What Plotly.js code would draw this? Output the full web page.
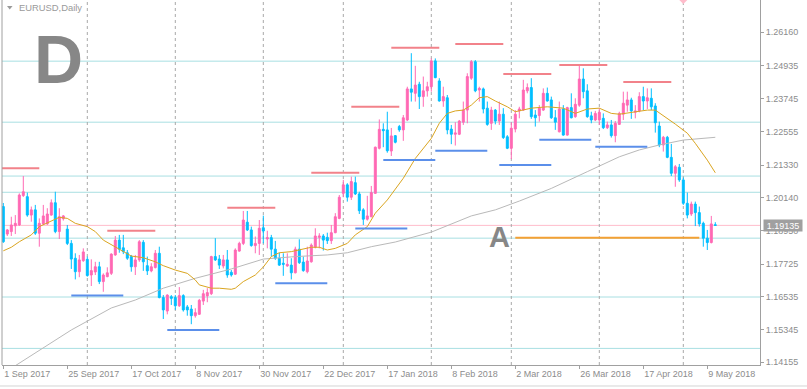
<!DOCTYPE html>
<html><head><meta charset="utf-8">
<script src="https://cdn.plot.ly/plotly-3.0.1.min.js"></script>
<style>html,body{margin:0;padding:0;background:#fff;overflow:hidden}#chart{width:807px;height:389px}</style>
</head><body><div id="chart"></div>
<script>
// ---- candle data (EURUSD daily, bar index 0 = 1 Sep 2017) ----
const open = [1.1982,1.1882,1.1891,1.1912,1.1915,1.2022,1.2018,1.1951,1.1970,1.1885,1.1919,1.1919,1.1951,1.1996,1.1891,1.1938,1.1900,1.1848,1.1794,1.1745,1.1785,1.1790,1.1733,1.1744,1.1763,1.1709,1.1727,1.1739,1.1806,1.1860,1.1832,1.1814,1.1800,1.1763,1.1788,1.1852,1.1767,1.1748,1.1760,1.1812,1.1651,1.1602,1.1654,1.1651,1.1621,1.1658,1.1617,1.1609,1.1585,1.1590,1.1638,1.1657,1.1665,1.1800,1.1791,1.1766,1.1788,1.1743,1.1736,1.1820,1.1848,1.1925,1.1897,1.1840,1.1848,1.1905,1.1864,1.1869,1.1827,1.1794,1.1776,1.1766,1.1769,1.1741,1.1827,1.1780,1.1745,1.1781,1.1834,1.1870,1.1875,1.1870,1.1858,1.1887,1.1939,1.2030,1.2061,1.2016,1.2069,1.2028,1.1970,1.1936,1.1945,1.2030,1.2194,1.2263,1.2261,1.2184,1.2240,1.2273,1.2261,1.2297,1.2410,1.2394,1.2427,1.2382,1.2403,1.2418,1.2512,1.2439,1.2366,1.2378,1.2264,1.2245,1.2245,1.2289,1.2333,1.2449,1.2509,1.2406,1.2410,1.2340,1.2285,1.2333,1.2293,1.2318,1.2236,1.2194,1.2264,1.2330,1.2333,1.2403,1.2415,1.2315,1.2313,1.2333,1.2394,1.2370,1.2305,1.2254,1.2337,1.2242,1.2342,1.2309,1.2351,1.2446,1.2403,1.2312,1.2297,1.2297,1.2303,1.2269,1.2279,1.2240,1.2281,1.2318,1.2351,1.2370,1.2325,1.2330,1.2382,1.2366,1.2376,1.2348,1.2275,1.2206,1.2234,1.2161,1.2103,1.2125,1.2079,1.1994,1.1955,1.1991,1.1960,1.1921,1.1867,1.1851,1.1916];
const high = [1.1995,1.1900,1.1945,1.1951,1.2030,1.2093,1.2033,1.1982,1.1988,1.1939,1.1988,1.1976,1.2008,1.2036,1.1976,1.1951,1.1915,1.1860,1.1812,1.1806,1.1830,1.1800,1.1790,1.1781,1.1781,1.1739,1.1761,1.1812,1.1875,1.1879,1.1879,1.1824,1.1806,1.1806,1.1860,1.1860,1.1800,1.1776,1.1824,1.1836,1.1660,1.1663,1.1660,1.1660,1.1689,1.1663,1.1624,1.1624,1.1612,1.1646,1.1679,1.1685,1.1803,1.1867,1.1806,1.1806,1.1824,1.1751,1.1830,1.1854,1.1966,1.1966,1.1909,1.1873,1.1933,1.1949,1.1894,1.1879,1.1857,1.1814,1.1812,1.1812,1.1794,1.1836,1.1863,1.1800,1.1836,1.1848,1.1903,1.1885,1.1882,1.1887,1.1915,1.1958,1.2024,1.2079,1.2067,1.2091,1.2091,1.2036,1.1976,1.2021,1.2057,1.2200,1.2299,1.2285,1.2327,1.2268,1.2242,1.2279,1.2315,1.2418,1.2540,1.2494,1.2436,1.2455,1.2436,1.2521,1.2521,1.2449,1.2418,1.2388,1.2279,1.2289,1.2297,1.2364,1.2467,1.2515,1.2515,1.2418,1.2415,1.2364,1.2345,1.2337,1.2364,1.2340,1.2242,1.2289,1.2333,1.2345,1.2443,1.2430,1.2449,1.2333,1.2351,1.2412,1.2415,1.2382,1.2333,1.2364,1.2351,1.2345,1.2394,1.2376,1.2497,1.2485,1.2427,1.2327,1.2330,1.2340,1.2321,1.2291,1.2297,1.2293,1.2327,1.2400,1.2400,1.2378,1.2351,1.2398,1.2418,1.2412,1.2412,1.2358,1.2291,1.2239,1.2239,1.2210,1.2133,1.2137,1.2088,1.2033,1.2000,1.2000,1.1982,1.1927,1.1897,1.1948,1.1925];
const low = [1.1850,1.1875,1.1875,1.1882,1.1912,1.2017,1.1945,1.1927,1.1879,1.1836,1.1915,1.1915,1.1949,1.1885,1.1864,1.1931,1.1842,1.1755,1.1717,1.1725,1.1781,1.1727,1.1693,1.1733,1.1700,1.1672,1.1725,1.1733,1.1803,1.1814,1.1809,1.1788,1.1745,1.1733,1.1781,1.1748,1.1733,1.1743,1.1757,1.1648,1.1573,1.1590,1.1624,1.1606,1.1617,1.1600,1.1585,1.1554,1.1578,1.1588,1.1624,1.1634,1.1660,1.1784,1.1755,1.1757,1.1723,1.1727,1.1733,1.1818,1.1842,1.1893,1.1836,1.1812,1.1806,1.1848,1.1830,1.1800,1.1788,1.1766,1.1730,1.1763,1.1717,1.1739,1.1773,1.1745,1.1739,1.1778,1.1830,1.1830,1.1822,1.1846,1.1846,1.1885,1.1936,1.2016,1.2000,1.2006,1.2024,1.1955,1.1915,1.1931,1.1943,1.2028,1.2190,1.2198,1.2178,1.2166,1.2212,1.2254,1.2221,1.2293,1.2364,1.2364,1.2337,1.2345,1.2382,1.2400,1.2449,1.2364,1.2345,1.2245,1.2209,1.2204,1.2242,1.2279,1.2285,1.2443,1.2398,1.2364,1.2321,1.2276,1.2261,1.2281,1.2279,1.2228,1.2191,1.2155,1.2252,1.2303,1.2330,1.2394,1.2301,1.2273,1.2291,1.2330,1.2364,1.2301,1.2261,1.2252,1.2240,1.2240,1.2303,1.2305,1.2345,1.2376,1.2305,1.2285,1.2293,1.2279,1.2264,1.2264,1.2233,1.2216,1.2279,1.2297,1.2327,1.2301,1.2303,1.2325,1.2333,1.2337,1.2333,1.2251,1.2198,1.2182,1.2158,1.2093,1.2054,1.2072,1.1988,1.1939,1.1948,1.1911,1.1909,1.1836,1.1824,1.1848,1.1912];
const close = [1.1854,1.1897,1.1915,1.1921,1.2024,1.2036,1.1951,1.1970,1.1885,1.1921,1.1948,1.1955,1.1996,1.1891,1.1945,1.1948,1.1848,1.1791,1.1745,1.1788,1.1817,1.1731,1.1749,1.1763,1.1709,1.1733,1.1741,1.1809,1.1860,1.1827,1.1818,1.1794,1.1763,1.1788,1.1854,1.1781,1.1748,1.1763,1.1812,1.1651,1.1606,1.1660,1.1648,1.1621,1.1658,1.1606,1.1606,1.1585,1.1596,1.1641,1.1665,1.1669,1.1800,1.1788,1.1769,1.1788,1.1733,1.1733,1.1824,1.1848,1.1933,1.1897,1.1840,1.1848,1.1903,1.1893,1.1869,1.1827,1.1794,1.1769,1.1772,1.1772,1.1741,1.1827,1.1778,1.1749,1.1784,1.1842,1.1875,1.1875,1.1860,1.1858,1.1887,1.1945,1.2016,1.2061,1.2016,1.2073,1.2028,1.1967,1.1936,1.1948,1.2033,1.2198,1.2263,1.2258,1.2185,1.2239,1.2216,1.2261,1.2305,1.2410,1.2398,1.2424,1.2382,1.2403,1.2418,1.2512,1.2451,1.2366,1.2382,1.2261,1.2245,1.2250,1.2293,1.2333,1.2455,1.2509,1.2403,1.2412,1.2337,1.2281,1.2333,1.2293,1.2318,1.2233,1.2194,1.2267,1.2318,1.2337,1.2406,1.2415,1.2309,1.2305,1.2340,1.2394,1.2366,1.2305,1.2289,1.2337,1.2242,1.2342,1.2305,1.2354,1.2446,1.2400,1.2309,1.2297,1.2321,1.2325,1.2269,1.2279,1.2240,1.2285,1.2321,1.2358,1.2370,1.2330,1.2330,1.2382,1.2366,1.2378,1.2345,1.2287,1.2206,1.2234,1.2161,1.2103,1.2127,1.2079,1.1994,1.1951,1.1991,1.1960,1.1919,1.1867,1.1851,1.1919,1.19135];

// ---- moving averages (bar index, price) ----
const maFastBar = [0,2,4,7,9,12,14,16,18,21,23,25,28,30,32,35,38,40,43,46,48,49,52,54,57,58,60,63,65,67,69,72,74,77,79,81,83,86,88,91,93,96,100,103,107,109,111,113,115,117,119,121,123,126,128,132,136,140,143,146,149,152,154,157,161,163,166,168,171,173,176,178];
const maFastVal = [1.1821,1.1834,1.1854,1.1879,1.1909,1.1929,1.1943,1.1939,1.1921,1.1909,1.1891,1.1860,1.1834,1.1818,1.1802,1.1796,1.1781,1.1767,1.1751,1.1739,1.1715,1.1697,1.1685,1.1685,1.1681,1.1685,1.1709,1.1733,1.1762,1.1800,1.1814,1.1818,1.1824,1.1834,1.1834,1.1824,1.1830,1.1848,1.1879,1.1909,1.1958,1.2006,1.2085,1.2157,1.2230,1.2285,1.2321,1.2330,1.2333,1.2351,1.2378,1.2382,1.2366,1.2345,1.2327,1.2340,1.2345,1.2340,1.2321,1.2337,1.2340,1.2321,1.2318,1.2325,1.2333,1.2333,1.2303,1.2282,1.2249,1.2212,1.2151,1.2105];
const maSlowBar = [3,17,27,33,40,48,57,65,73,81,86,92,98,107,117,123,129,137,146,154,159,164,170,174,178];
const maSlowVal = [1.1403,1.1533,1.1613,1.1642,1.1685,1.1721,1.1755,1.1791,1.1800,1.1806,1.1814,1.1836,1.1853,1.1889,1.1948,1.1970,1.2002,1.2048,1.2109,1.2163,1.2188,1.2206,1.2224,1.2230,1.2234];

// ---- drawn levels ----
const levelPrices = [1.2511,1.2289,1.2093,1.2034,1.1867,1.1653,1.1466];
const bidPrice = 1.19135;
const resFrom  = [-3,26,56,77,87,97,113,125,139,155];
const resTo    = [9,38,68,89,99,109,125,137,151,167];
const resPrice = [1.2121,1.1894,1.1978,1.2105,1.2345,1.2560,1.2573,1.2464,1.2497,1.2435];
const supFrom  = [17,41,68,88,95,108,124,134,148];
const supTo    = [30,54,81,101,108,121,137,147,161];
const supPrice = [1.1658,1.1533,1.1703,1.1902,1.2151,1.2185,1.2133,1.2225,1.2200];
const aLineFrom = 128, aLineTo = 174, aLinePrice = 1.1869;
const aLabelBar = 124, aLabelPrice = 1.1873;
const shiftMarkBar = 170;

// ---- axes ----
const gridBars = [21,43,65,85,107,127,149,170];
const xTickBars = [0,16,32,48,64,80,96,112,128,144,160,176];
const xTickLabels = ['1 Sep 2017','25 Sep 2017','17 Oct 2017','8 Nov 2017','30 Nov 2017','22 Dec 2017','17 Jan 2018','8 Feb 2018','2 Mar 2018','26 Mar 2018','17 Apr 2018','9 May 2018'];
const yTickVals = [1.14155,1.15345,1.16535,1.17725,1.18950,1.20140,1.21330,1.22555,1.23745,1.24935,1.26160];

const FONT = 'Liberation Sans, Arial, sans-serif';
const idx = open.map((_, i) => i);

function segs(from, to, price) {
  const x = [], y = [];
  for (let i = 0; i < from.length; i++) { x.push(from[i], to[i], null); y.push(price[i], price[i], null); }
  return {x, y};
}

const traces = [];
traces.push({
  type: 'candlestick', x: idx, open, high, low, close,
  increasing: {line: {color: '#ff69b4', width: 1}, fillcolor: '#ff69b4'},
  decreasing: {line: {color: '#00bfff', width: 1}, fillcolor: '#00bfff'},
  whiskerwidth: 0, hoverinfo: 'skip', showlegend: false
});
traces.push({type: 'scatter', mode: 'lines', x: maSlowBar, y: maSlowVal, line: {color: '#b9b9b9', width: 1}, hoverinfo: 'skip'});
traces.push({type: 'scatter', mode: 'lines', x: maFastBar, y: maFastVal, line: {color: '#daa520', width: 1}, hoverinfo: 'skip'});
const r = segs(resFrom, resTo, resPrice);
traces.push({type: 'scatter', mode: 'lines', x: r.x, y: r.y, line: {color: '#f2828a', width: 2}, hoverinfo: 'skip'});
const s = segs(supFrom, supTo, supPrice);
traces.push({type: 'scatter', mode: 'lines', x: s.x, y: s.y, line: {color: '#5b8fea', width: 2}, hoverinfo: 'skip'});
traces.push({type: 'scatter', mode: 'lines', x: [aLineFrom, aLineTo], y: [aLinePrice, aLinePrice], line: {color: '#f5a033', width: 2}, hoverinfo: 'skip'});

const shapes = [];
levelPrices.forEach(p => shapes.push({type: 'line', layer: 'below', xref: 'paper', x0: 0, x1: 1, yref: 'y', y0: p, y1: p, line: {color: '#a8dfe2', width: 1}}));
shapes.push({type: 'line', layer: 'below', xref: 'paper', x0: 0, x1: 1, yref: 'y', y0: bidPrice, y1: bidPrice, line: {color: '#ffbccb', width: 1}});
gridBars.forEach(b => shapes.push({type: 'line', layer: 'below', xref: 'x', x0: b, x1: b, yref: 'paper', y0: 0, y1: 1, line: {color: '#a8a8a8', width: 1, dash: '3px,3px'}}));
// left border
shapes.push({type: 'line', xref: 'paper', x0: 0, x1: 0, yref: 'paper', y0: 0, y1: 1, line: {color: '#a0a0a0', width: 1}});
// title triangle
shapes.push({type: 'path', xref: 'paper', yref: 'paper', path: 'M 0.0066 0.9836 L 0.0139 0.9836 L 0.0102 0.9740 Z', fillcolor: '#9a9a9a', line: {width: 0}});
// chart-shift marker at top
shapes.push({type: 'path', xref: 'x', yref: 'paper',
  path: 'M ' + (shiftMarkBar - 1) + ' 1 L ' + (shiftMarkBar + 1) + ' 1 L ' + shiftMarkBar + ' 0.989 Z',
  fillcolor: '#ffbccb', line: {width: 0}});
// window bottom border
shapes.push({type: 'line', xref: 'paper', x0: -0.01, x1: 1.07, yref: 'paper', y0: -0.0575, y1: -0.0575, line: {color: '#d4d4d4', width: 1}});

const annotations = [
  {xref: 'paper', yref: 'paper', x: 0.0198, y: 0.979, xanchor: 'left', yanchor: 'middle', showarrow: false,
   text: 'EURUSD,Daily', font: {family: FONT, size: 9.4, color: '#9a9a9a'}},
  {xref: 'paper', yref: 'paper', x: 0.0395, y: 0.8397, xanchor: 'left', yanchor: 'middle', showarrow: false,
   text: '<b>D</b>', font: {family: FONT, size: 68, color: '#878787'}},
  {xref: 'x', yref: 'y', x: aLabelBar, y: aLabelPrice, xanchor: 'center', yanchor: 'middle', showarrow: false,
   text: '<b>A</b>', font: {family: FONT, size: 29, color: '#878787'}},
  {xref: 'paper', yref: 'y', x: 1, y: bidPrice, xanchor: 'left', yanchor: 'middle', xshift: 3, showarrow: false,
   text: bidPrice.toFixed(5), bgcolor: '#a0a0a0', borderpad: 1, width: 36, height: 9,
   font: {family: FONT, size: 9, color: '#ffffff'}}
];

const layout = {
  width: 807, height: 389,
  margin: {l: 2, r: 47, t: 0, b: 24, pad: 0},
  paper_bgcolor: '#ffffff', plot_bgcolor: '#ffffff',
  showlegend: false, hovermode: false, dragmode: false,
  xaxis: {
    range: [-0.325, 189.175], showgrid: false, zeroline: false,
    showline: true, linecolor: '#a0a0a0', linewidth: 1,
    ticks: 'outside', ticklen: 3, tickcolor: '#a0a0a0',
    tickvals: xTickBars, ticktext: xTickLabels, ticklabelposition: 'outside right',
    tickfont: {family: FONT, size: 9, color: '#8c8c8c'},
    rangeslider: {visible: false}, fixedrange: true
  },
  yaxis: {
    side: 'right', range: [1.14056, 1.27335], showgrid: false, zeroline: false,
    showline: true, linecolor: '#a0a0a0', linewidth: 1,
    ticks: 'outside', ticklen: 3, tickcolor: '#a0a0a0',
    tickvals: yTickVals, ticktext: yTickVals.map(v => v.toFixed(5)),
    tickfont: {family: FONT, size: 9, color: '#8c8c8c'}, fixedrange: true
  },
  shapes, annotations
};

Plotly.newPlot('chart', traces, layout, {staticPlot: true, displayModeBar: false});
</script></body></html>
